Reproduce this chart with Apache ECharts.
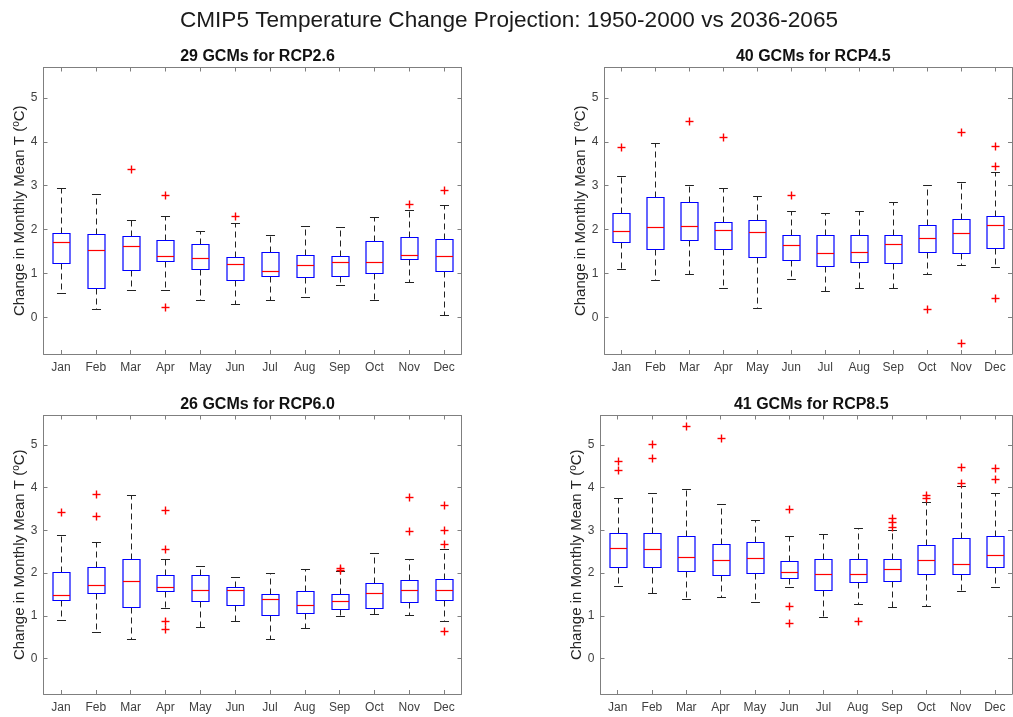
<!DOCTYPE html>
<html>
<head>
<meta charset="utf-8">
<script src="https://cdn.jsdelivr.net/npm/echarts@6/dist/echarts.min.js"></script>
<style>
html,body{margin:0;padding:0;background:#fff;}
#chart{width:1013px;height:717px;}
</style>
</head>
<body>
<div id="chart"></div>
<script>
// ---- Data ----
const months = ['Jan','Feb','Mar','Apr','May','Jun','Jul','Aug','Sep','Oct','Nov','Dec'];
const yTicks = [0, 1, 2, 3, 4, 5];

const panelTitles = ['29 GCMs for RCP2.6', '40 GCMs for RCP4.5', '26 GCMs for RCP6.0', '41 GCMs for RCP8.5'];
const mainTitle = 'CMIP5 Temperature Change Projection: 1950-2000 vs 2036-2065';

// RCP2.6
const rcp26Low  = [0.55, 0.20, 0.63, 0.62, 0.41, 0.30, 0.40, 0.46, 0.74, 0.41, 0.80, 0.05];
const rcp26Q1   = [1.24, 0.68, 1.08, 1.29, 1.11, 0.85, 0.94, 0.93, 0.94, 1.02, 1.34, 1.07];
const rcp26Med  = [1.71, 1.53, 1.62, 1.40, 1.36, 1.21, 1.06, 1.19, 1.27, 1.26, 1.43, 1.40];
const rcp26Q3   = [1.93, 1.90, 1.85, 1.76, 1.67, 1.37, 1.50, 1.43, 1.40, 1.75, 1.84, 1.78];
const rcp26High = [2.95, 2.80, 2.22, 2.32, 1.97, 2.15, 1.87, 2.09, 2.06, 2.29, 2.45, 2.56];
const rcp26Out  = [[2, 3.39], [3, 2.79], [3, 0.23], [5, 2.32], [10, 2.59], [11, 2.91]];

// RCP4.5
const rcp45Low  = [1.11, 0.85, 0.98, 0.67, 0.22, 0.88, 0.61, 0.67, 0.68, 0.99, 1.19, 1.15];
const rcp45Q1   = [1.71, 1.56, 1.76, 1.56, 1.38, 1.32, 1.18, 1.27, 1.24, 1.49, 1.47, 1.58];
const rcp45Med  = [1.96, 2.07, 2.09, 1.99, 1.95, 1.64, 1.47, 1.49, 1.68, 1.80, 1.93, 2.10];
const rcp45Q3   = [2.38, 2.75, 2.63, 2.18, 2.22, 1.88, 1.87, 1.87, 1.87, 2.11, 2.25, 2.30];
const rcp45High = [3.22, 3.97, 3.01, 2.95, 2.77, 2.43, 2.37, 2.43, 2.63, 3.02, 3.08, 3.32];
const rcp45Out  = [[0, 3.88], [2, 4.47], [3, 4.10], [5, 2.78], [9, 0.20], [10, 4.23], [10, -0.59], [11, 3.91], [11, 3.44], [11, 0.45]];

// RCP6.0
const rcp60Low  = [0.90, 0.61, 0.46, 1.18, 0.73, 0.89, 0.46, 0.72, 0.99, 1.05, 1.01, 0.87];
const rcp60Q1   = [1.38, 1.53, 1.20, 1.58, 1.34, 1.25, 1.01, 1.06, 1.16, 1.18, 1.33, 1.38];
const rcp60Med  = [1.48, 1.72, 1.82, 1.67, 1.60, 1.60, 1.39, 1.25, 1.34, 1.54, 1.60, 1.61];
const rcp60Q3   = [2.02, 2.15, 2.34, 1.96, 1.95, 1.67, 1.50, 1.57, 1.51, 1.76, 1.84, 1.87];
const rcp60High = [2.90, 2.73, 3.83, 2.32, 2.16, 1.92, 2.00, 2.10, 2.04, 2.46, 2.34, 2.57];
const rcp60Out  = [[0, 3.43], [1, 3.85], [1, 3.33], [3, 3.47], [3, 2.57], [3, 0.87], [3, 0.69],
                   [8, 2.13], [8, 2.08], [10, 3.79], [10, 2.98], [11, 3.59], [11, 3.01], [11, 2.67], [11, 0.64]];

// RCP8.5
const rcp85Low  = [1.70, 1.53, 1.39, 1.43, 1.32, 1.68, 0.97, 1.27, 1.21, 1.23, 1.58, 1.67];
const rcp85Q1   = [2.14, 2.15, 2.06, 1.95, 2.01, 1.88, 1.60, 1.79, 1.81, 1.97, 1.98, 2.15];
const rcp85Med  = [2.59, 2.56, 2.37, 2.31, 2.36, 2.03, 1.99, 1.99, 2.10, 2.31, 2.21, 2.42];
const rcp85Q3   = [2.94, 2.94, 2.87, 2.69, 2.73, 2.28, 2.34, 2.33, 2.32, 2.66, 2.82, 2.86];
const rcp85High = [3.75, 3.88, 3.96, 3.61, 3.24, 2.86, 2.92, 3.05, 3.01, 3.67, 4.04, 3.87];
const rcp85Out  = [[0, 4.63], [0, 4.41], [1, 5.03], [1, 4.69], [2, 5.44], [3, 5.16], [5, 3.49], [5, 1.23], [5, 0.84],
                   [7, 0.87], [8, 3.28], [8, 3.19], [8, 3.09], [9, 3.82], [9, 3.75], [10, 4.49], [10, 4.12], [11, 4.45], [11, 4.21]];

const yMin = -0.83, yMax = 5.69;

// ---- Build ----
const panels = [
  {low: rcp26Low, q1: rcp26Q1, med: rcp26Med, q3: rcp26Q3, high: rcp26High, out: rcp26Out},
  {low: rcp45Low, q1: rcp45Q1, med: rcp45Med, q3: rcp45Q3, high: rcp45High, out: rcp45Out},
  {low: rcp60Low, q1: rcp60Q1, med: rcp60Med, q3: rcp60Q3, high: rcp60High, out: rcp60Out},
  {low: rcp85Low, q1: rcp85Q1, med: rcp85Med, q3: rcp85Q3, high: rcp85High, out: rcp85Out}
];

const grids = [
  {left: 43.5, top: 67.5, width: 418, height: 286.5},
  {left: 604.5, top: 67.5, width: 407.5, height: 286.5},
  {left: 43.5, top: 415.5, width: 418, height: 278.5},
  {left: 600.5, top: 415.5, width: 411.5, height: 278.5}
];

const FONT = '"Liberation Sans", Arial, Helvetica, sans-serif';
const AXIS_COLOR = '#7f7f7f';
const LABEL_COLOR = '#404040';

const xAxes = [], yAxes = [], series = [], titles = [];

titles.push({
  text: mainTitle, left: 504, top: 4, textAlign: 'center',
  textStyle: {fontFamily: FONT, fontSize: 22.6, fontWeight: 'normal', color: '#1a1a1a'}
});

grids.forEach((g, i) => {
  const cx = g.left + g.width / 2;
  titles.push({
    text: panelTitles[i], left: cx, top: g.top - 24, textAlign: 'center',
    textStyle: {fontFamily: FONT, fontSize: 16, fontWeight: 'bold', color: '#111'}
  });
  const catBase = {
    type: 'category', data: months, gridIndex: i, boundaryGap: true,
    axisLine: {show: true, onZero: false, lineStyle: {color: AXIS_COLOR, width: 1}},
    axisTick: {show: true, inside: true, alignWithLabel: true, length: 4, lineStyle: {color: AXIS_COLOR}},
    splitLine: {show: false}
  };
  xAxes.push(Object.assign({}, catBase, {
    position: 'bottom',
    axisLabel: {show: true, margin: 8, fontFamily: FONT, fontSize: 12, color: LABEL_COLOR, interval: 0}
  }));
  xAxes.push(Object.assign({}, catBase, {
    position: 'top', axisLabel: {show: false}
  }));
  const valBase = {
    type: 'value', gridIndex: i, min: yMin, max: yMax,
    axisLine: {show: true, onZero: false, lineStyle: {color: AXIS_COLOR, width: 1}},
    axisTick: {show: true, inside: true, length: 4, customValues: yTicks, lineStyle: {color: AXIS_COLOR}},
    splitLine: {show: false}
  };
  yAxes.push(Object.assign({}, valBase, {
    position: 'left',
    axisLabel: {show: true, margin: 6, fontFamily: FONT, fontSize: 12, color: LABEL_COLOR, customValues: yTicks},
    name: 'Change in Monthly Mean T ({s|o}C)',
    nameLocation: 'middle', nameGap: 16, nameRotate: 90,
    nameTextStyle: {
      fontFamily: FONT, fontSize: 15, color: '#262626',
      rich: {s: {fontFamily: FONT, fontSize: 10, color: '#262626', verticalAlign: 'top', lineHeight: 16}}
    }
  }));
  yAxes.push(Object.assign({}, valBase, {
    position: 'right', axisLabel: {show: false}
  }));

  const p = panels[i];
  const boxData = months.map((m, k) => [k, p.low[k], p.q1[k], p.med[k], p.q3[k], p.high[k]]);

  series.push({
    type: 'custom', xAxisIndex: 2 * i, yAxisIndex: 2 * i,
    data: boxData,
    encode: {x: 0, y: [1, 2, 3, 4, 5]},
    silent: true,
    renderItem: function (params, api) {
      const x = api.value(0);
      const pLow = api.coord([x, api.value(1)]);
      const pQ1 = api.coord([x, api.value(2)]);
      const pMed = api.coord([x, api.value(3)]);
      const pQ3 = api.coord([x, api.value(4)]);
      const pHigh = api.coord([x, api.value(5)]);
      const band = api.size([1, 0])[0];
      const hb = band * 0.25;   // half box width
      const hc = band * 0.13;   // half cap width
      const cx = Math.round(pLow[0]) + 0.5;
      const r = v => Math.round(v) + 0.5;
      const wStyle = {stroke: '#222', lineWidth: 1, lineDash: [6, 4]};
      const cStyle = {stroke: '#222', lineWidth: 1};
      return {
        type: 'group',
        children: [
          {type: 'line', shape: {x1: cx, y1: r(pQ3[1]), x2: cx, y2: r(pHigh[1])}, style: wStyle},
          {type: 'line', shape: {x1: cx, y1: r(pQ1[1]), x2: cx, y2: r(pLow[1])}, style: wStyle},
          {type: 'line', shape: {x1: cx - hc, y1: r(pHigh[1]), x2: cx + hc, y2: r(pHigh[1])}, style: cStyle},
          {type: 'line', shape: {x1: cx - hc, y1: r(pLow[1]), x2: cx + hc, y2: r(pLow[1])}, style: cStyle},
          {type: 'rect', shape: {x: Math.round(cx - hb), y: r(pQ3[1]), width: Math.round(2 * hb), height: r(pQ1[1]) - r(pQ3[1])},
           style: {fill: 'none', stroke: '#0000ff', lineWidth: 1.2}},
          {type: 'line', shape: {x1: Math.round(cx - hb), y1: r(pMed[1]), x2: Math.round(cx + hb), y2: r(pMed[1])},
           style: {stroke: '#ff0000', lineWidth: 1.2}}
        ]
      };
    }
  });

  series.push({
    type: 'custom', xAxisIndex: 2 * i, yAxisIndex: 2 * i,
    data: p.out,
    encode: {x: 0, y: 1},
    silent: true,
    renderItem: function (params, api) {
      const pt = api.coord([api.value(0), api.value(1)]);
      const x = Math.round(pt[0]) + 0.5, y = Math.round(pt[1]) + 0.5;
      const s = 4;
      return {
        type: 'group',
        children: [
          {type: 'line', shape: {x1: x - s, y1: y, x2: x + s, y2: y}, style: {stroke: '#ff0000', lineWidth: 1.4}},
          {type: 'line', shape: {x1: x, y1: y - s, x2: x, y2: y + s}, style: {stroke: '#ff0000', lineWidth: 1.4}}
        ]
      };
    }
  });
});

const chart = echarts.init(document.getElementById('chart'), null, {renderer: 'canvas'});
chart.setOption({
  backgroundColor: '#ffffff',
  animation: false,
  title: titles,
  grid: grids,
  xAxis: xAxes,
  yAxis: yAxes,
  series: series
});
</script>
</body>
</html>
